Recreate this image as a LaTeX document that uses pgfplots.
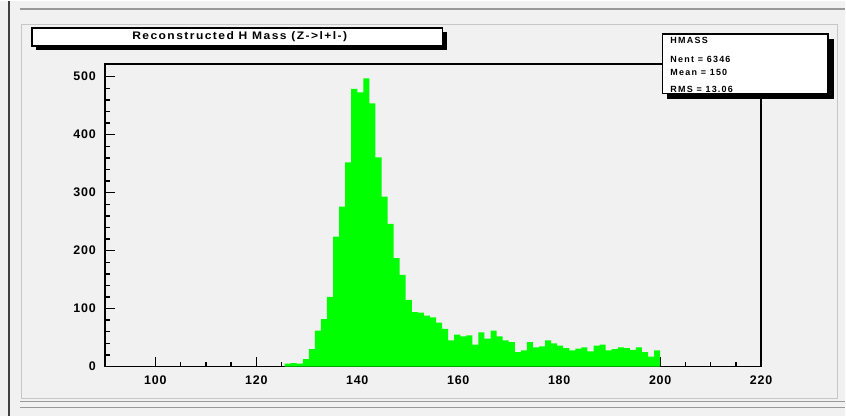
\documentclass[border=0pt]{standalone}
\usepackage{pgfplots}
\pgfplotsset{compat=1.18}
\usepackage{fontspec}
\setmainfont{Liberation Sans}
\definecolor{bg}{RGB}{241,241,241}
\definecolor{hgreen}{RGB}{0,255,0}
\pgfplotstableread{
x y
125.6 5
126.8 6
128.0 5
129.2 13
130.4 30
131.6 62
132.8 82
134.0 120
135.2 224
136.4 276
137.6 352
138.8 479
140.0 473
141.2 497
142.4 454
143.6 361
144.8 293
146.0 246
147.2 187
148.4 158
149.6 115
150.8 94
152.0 93
153.2 88
154.4 85
155.6 76
156.8 65
158.0 45
159.2 55
160.4 52
161.6 54
162.8 38
164.0 59
165.2 48
166.4 62
167.6 52
168.8 45
170.0 42
171.2 25
172.4 28
173.6 42
174.8 33
176.0 35
177.2 45
178.4 40
179.6 36
180.8 32
182.0 28
183.2 31
184.4 33
185.6 26
186.8 36
188.0 38
189.2 28
190.4 30
191.6 33
192.8 32
194.0 29
195.2 33
196.4 25
197.6 17
198.8 28
200.0 28
}\hdata
\begin{document}
\begin{tikzpicture}[x=1bp,y=1bp]
% canvas
\fill[bg] (0,0) rectangle (846,415);
\draw[line width=2bp, black!75] (9,0) -- (9,415);
\draw[line width=2bp, black!40] (20,407) -- (846,407);
\draw[line width=1bp, black!22] (22,17) rectangle (838,391);
\draw[line width=1.5bp, black!40] (20,14) -- (846,14);
\draw[line width=1.5bp, black!40] (20,8) -- (846,8);
\begin{axis}[
  at={(105bp,49bp)}, anchor=south west,
  scale only axis, width=657bp, height=303bp,
  xmin=90, xmax=220, ymin=0, ymax=522,
  axis background/.style={fill=bg},
  axis line style={line width=1.3bp, black},
  xtick={100,120,...,220}, ytick={0,100,...,500},
  minor x tick num=3, minor y tick num=4,
  tick pos=left, tick align=inside,
  major tick length=10bp, minor tick length=5bp,
  every tick/.style={line width=1.4bp, black},
  /pgf/number format/assume math mode=true,
  ticklabel style={font=\fontsize{12.5}{13}\selectfont\bfseries\addfontfeature{LetterSpace=6}, inner sep=0pt},
  xticklabel style={anchor=north, yshift=-9bp},
  yticklabel style={anchor=east, xshift=-9bp},
  clip=false,
]
\addplot[const plot mark left, fill=hgreen, draw=none] table[x=x,y=y] {\hdata} \closedcycle;
\end{axis}
% title box
\fill[black] (36,366) rectangle (448,384);
\filldraw[fill=white, draw=black, line width=1.2bp] (32,370) rectangle (443,388);
\node[font=\fontsize{11}{12}\selectfont\bfseries\addfontfeature{LetterSpace=12}, inner sep=0pt] at (240,379) {\scalebox{1.1}[1]{Reconstructed H Mass (Z->l+l-)}};
% stats box
\fill[black] (668,317) rectangle (835,377);
\filldraw[fill=white, draw=black, line width=1.2bp] (663,322) rectangle (829,382);
\begin{scope}[every node/.style={anchor=base west, inner sep=0pt, font=\fontsize{9}{10}\selectfont\bfseries\addfontfeature{LetterSpace=14}}]
\node at (671,372) {HMASS};
\node at (671,353.5) {Nent = 6346};
\node at (671,340) {Mean = 150};
\node at (671,323.5) {RMS = 13.06};
\end{scope}
\end{tikzpicture}
\end{document}
